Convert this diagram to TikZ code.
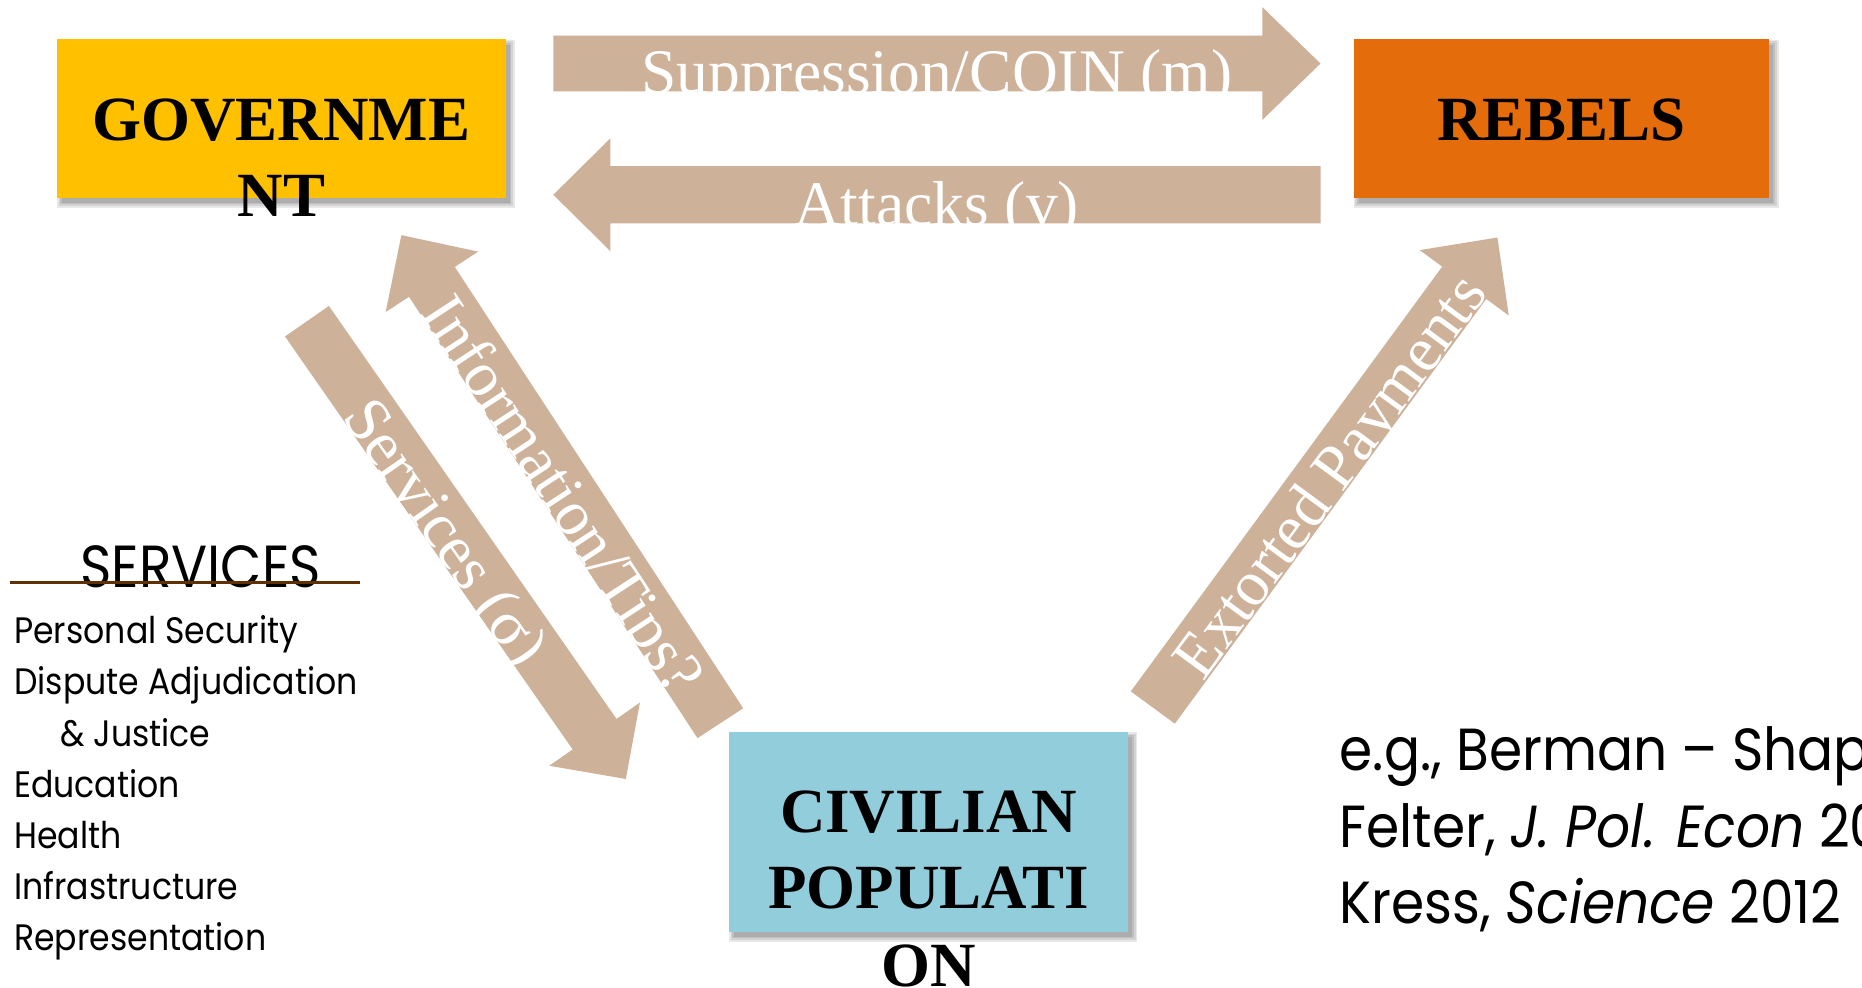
\documentclass[tikz,border=0pt]{standalone}
\usepackage{fontspec}
\setmainfont{Liberation Serif}
\newfontfamily\futura[FakeStretch=0.9]{Poppins}
\usetikzlibrary{calc,backgrounds}
\definecolor{gold}{HTML}{FFC000}
\definecolor{rebelorange}{HTML}{E46C0A}
\definecolor{civblue}{HTML}{92CDDC}
\definecolor{arrowtan}{RGB}{205,177,153}
\definecolor{ulbrown}{RGB}{96,48,0}
\newcommand{\blockarrow}[5]{%
  \coordinate (bac) at ($(#2)!#5!(#1)$);
  \fill[arrowfill] ($(#1)!#3!90:(#2)$) -- ($(bac)!#3!90:(#2)$) -- ($(bac)!#4!90:(#2)$) -- (#2)
    -- ($(bac)!#4!-90:(#2)$) -- ($(bac)!#3!-90:(#2)$) -- ($(#1)!#3!-90:(#2)$) -- cycle;
}
\tikzset{
  arrowfill/.style={fill=arrowtan},
  boxstyle/.style={rectangle, draw=none, inner sep=0, minimum width=#1},
  boxlabel/.style={font=\fontsize{53}{64}\bfseries, text=black, anchor=base, inner sep=0},
  arrowlabel/.style={font=\fontsize{53.5}{64}\selectfont, text=white, anchor=base, inner sep=0},
  listitem/.style={font=\futura\fontsize{31}{40}\selectfont, anchor=base west, inner sep=0},
  refitem/.style={font=\futura\fontsize{50}{60}\selectfont, anchor=base west, inner sep=0},
}
\begin{document}
\begin{tikzpicture}[x=1pt,y=-1pt]
\useasboundingbox (0,0) rectangle (1568,832);
\clip (0,0) rectangle (1568,832);

% boxes
\node[boxstyle=378pt, minimum height=134pt, fill=gold] (gov) at (237,100) {};
\node[boxstyle=350pt, minimum height=134pt, fill=rebelorange] (reb) at (1315,100) {};
\node[boxstyle=336pt, minimum height=169pt, fill=civblue] (civ) at (782,700.5) {};

% box labels
\node[boxlabel] (govl1) at (237,118) {GOVERNME};
\node[boxlabel] (govl2) at (237,182) {NT};
\node[boxlabel] (rebl) at (1315,118) {REBELS};
\node[boxlabel] (civl1) at (782,701) {CIVILIAN};
\node[boxlabel] (civl2) at (782,765) {POPULATI};
\node[boxlabel] (civl3) at (782,831) {ON};

% block arrows
\coordinate (supT) at (466,53.5);   \coordinate (supH) at (1112,53.5);
\coordinate (atkT) at (1112,164);   \coordinate (atkH) at (466,164);
\coordinate (infT) at (606.6,609);  \coordinate (infH) at (338,198);
\coordinate (svcT) at (258.5,270.5);\coordinate (svcH) at (527,656);
\coordinate (extT) at (970.8,595.8);\coordinate (extH) at (1261,200);
\blockarrow{supT}{supH}{23.5pt}{47.5pt}{49pt}
\blockarrow{atkT}{atkH}{24pt}{47.5pt}{48pt}
\blockarrow{infT}{infH}{23pt}{46.5pt}{47pt}
\blockarrow{svcT}{svcH}{22.5pt}{46.5pt}{46pt}
\blockarrow{extT}{extH}{23pt}{46.5pt}{47.3pt}

% arrow labels
\node[arrowlabel] (suptext) at (789,79) {Suppression/COIN (m)};
\node[arrowlabel] (atktext) at (789,190) {Attacks (v)};
\node[arrowlabel, rotate=-56.8] (inftext) at (459.7,426.1) {Information/Tips?};
\node[arrowlabel, rotate=-55.1] (svctext) at (361.7,458) {Services (σ)};
\node[arrowlabel, rotate=53.7] (exttext) at (1133.5,411) {Extorted Payments};

% services list
\node[font=\futura\fontsize{50}{58}\selectfont, anchor=base, inner sep=0] (svchead) at (169,495) {SERVICES};
\coordinate (ulL) at (8,490.7); \coordinate (ulR) at (303,490.7);
\draw[ulbrown, line width=2.8pt] (ulL) -- (ulR);
\node[listitem] (li1) at (11.8,541.8) {Personal Security};
\node[listitem] (li2) at (11.8,584.7) {Dispute Adjudication};
\node[listitem] (li3) at (50.5,628.8) {\& Justice};
\node[listitem] (li4) at (11.8,671.7) {Education};
\node[listitem] (li5) at (11.8,714.4) {Health};
\node[listitem] (li6) at (11.8,757.3) {Infrastructure};
\node[listitem] (li7) at (11.8,800) {Representation};

% references
\node[refitem] (ref1) at (1128,649) {e.g., Berman – Shapiro –};
\node[refitem] (ref2) at (1128,713.8) {Felter, \textit{J. Pol. Econ} 2011};
\node[refitem] (ref3) at (1128,777.5) {Kress, \textit{Science} 2012};

% background and box shadows
\begin{scope}[on background layer]
\fill[white] (0,0) rectangle (1568,832);
\foreach \n in {gov,reb,civ}{
  \foreach \s in {0,1.5,3,4.5}
    \fill[black, opacity=0.09] ($(\n.north west)+(4.5-\s,5-\s)$) rectangle ($(\n.south east)+(3+\s,3.5+\s)$);
}
\end{scope}
\end{tikzpicture}
\end{document}
